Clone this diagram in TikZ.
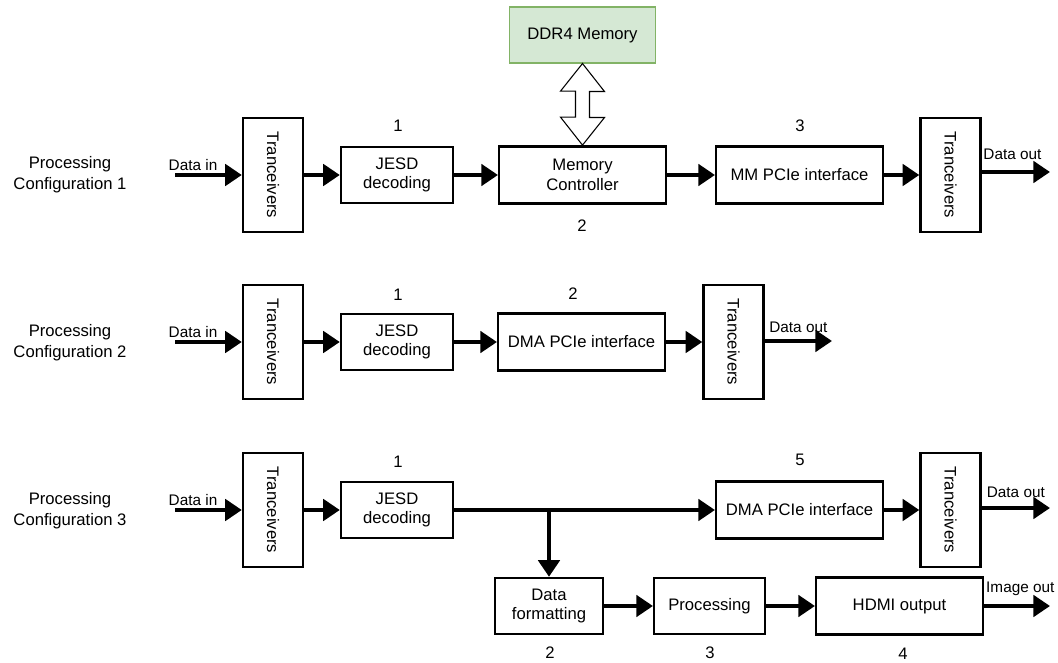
\documentclass[tikz,border=0pt]{standalone}
\usepackage{fontspec}
\setmainfont{Liberation Sans}
\usepackage{tikz}
\usetikzlibrary{arrows.meta}
\definecolor{ddrFill}{HTML}{D5E8D4}
\definecolor{ddrLine}{HTML}{82B366}
\tikzstyle{block} = [draw, rectangle, line width=1.8pt, align=center,
   font=\fontsize{12.5}{14.5}\selectfont, inner sep=0pt]
\tikzstyle{tranBox} = [block, minimum width=45pt, minimum height=85.5pt]
\tikzstyle{smallBox} = [block, minimum width=84pt, minimum height=42pt]
\tikzstyle{wideBox} = [block, minimum width=125pt, minimum height=43pt]
\tikzstyle{dataArrow} = [line width=3pt, -{Triangle[length=12.5pt, width=16pt]}]
\tikzstyle{ioLabel} = [font=\fontsize{11.5}{13}\selectfont, inner sep=1pt]
\tikzstyle{stepNum} = [font=\fontsize{12.5}{14.5}\selectfont]
\tikzstyle{cfgLabel} = [align=center, font=\fontsize{12.5}{15.5}\selectfont]
\newcommand{\tran}{\rotatebox{-90}{Tranceivers}}

\begin{document}
\begin{tikzpicture}[x=0.75pt, y=-0.75pt, thick]
  \useasboundingbox (0,0) rectangle (1058,663);

  % configuration 1
  \node[cfgLabel] (cfgA) at (70,175) {Processing\\Configuration 1};
  \coordinate (inA) at (175,175);
  \node[tranBox] (trA) at (273,175) {\tran};
  \node[smallBox] (jesdA) at (397,175) {JESD\\decoding};
  \node[wideBox] (mcA) at (582.5,175) {Memory\\Controller};
  \node[wideBox] (mmA) at (799.5,175) {MM PCIe interface};
  \node[tranBox] (trB) at (950.5,175) {\tran};
  \coordinate (outA) at (1050,172);
  \node[block, line width=0.8pt, draw=ddrLine, fill=ddrFill,
    minimum width=109pt, minimum height=42pt] (ddr) at (582.5,35) {DDR4 Memory};

  \node[stepNum] (nA1) at (398,126) {1};
  \node[stepNum] (nA2) at (582,226) {2};
  \node[stepNum] (nA3) at (800,126) {3};

  \draw[dataArrow] (inA) -- (trA.west) node[ioLabel, pos=0.27, above=1pt] {Data in};
  \draw[dataArrow] (trA) -- (jesdA);
  \draw[dataArrow] (jesdA) -- (mcA);
  \draw[dataArrow] (mcA) -- (mmA);
  \draw[dataArrow] (mmA) -- (trB);
  \draw[dataArrow] (trB.east |- outA) -- (outA) node[ioLabel, pos=0.45, above=7pt] {Data out};

  % memory bus (hollow double arrow)
  \draw[line width=0.8pt, fill=white] (ddr.south) -- ++(22,28) -- ++(-15,0) -- ++(0,26)
    -- ++(15,0) -- (mcA.north) -- ++(-22,-28) -- ++(15,0) -- ++(0,-26) -- ++(-15,0) -- cycle;

  % configuration 2
  \node[cfgLabel] (cfgB) at (70,343) {Processing\\Configuration 2};
  \coordinate (inB) at (175,342);
  \node[tranBox] (trC) at (273,342) {\tran};
  \node[smallBox] (jesdB) at (397,342) {JESD\\decoding};
  \node[wideBox] (dmaB) at (581.5,342) {DMA PCIe interface};
  \node[tranBox] (trD) at (733.5,342) {\tran};
  \coordinate (outB) at (832,341);

  \node[stepNum] (nB1) at (398,295) {1};
  \node[stepNum] (nB2) at (573,294) {2};

  \draw[dataArrow] (inB) -- (trC.west) node[ioLabel, pos=0.27, above=1pt] {Data in};
  \draw[dataArrow] (trC) -- (jesdB);
  \draw[dataArrow] (jesdB) -- (dmaB);
  \draw[dataArrow] (dmaB) -- (trD);
  \draw[dataArrow] (trD.east |- outB) -- (outB) node[ioLabel, pos=0.5, above=4pt] {Data out};

  % configuration 3
  \node[cfgLabel] (cfgC) at (70,511) {Processing\\Configuration 3};
  \coordinate (inC) at (175,510);
  \node[tranBox] (trE) at (273,510) {\tran};
  \node[smallBox] (jesdC) at (397,510) {JESD\\decoding};
  \node[wideBox] (dmaC) at (799.5,510) {DMA PCIe interface};
  \node[tranBox] (trF) at (950.5,510) {\tran};
  \coordinate (outC) at (1050,508);
  \coordinate (br) at (549,510);
  \node[block, minimum width=81pt, minimum height=42pt] (fmt) at (549,606) {Data\\formatting};
  \node[block, minimum width=83pt, minimum height=42pt] (proc) at (709.5,606) {Processing};
  \node[wideBox] (hdmi) at (899.5,606) {HDMI output};
  \coordinate (outD) at (1050,606);

  \node[stepNum] (nC1) at (398,462) {1};
  \node[stepNum] (nC5) at (800,460) {5};
  \node[stepNum] (nC2) at (550,653) {2};
  \node[stepNum] (nC3) at (710,653) {3};
  \node[stepNum] (nC4) at (903,654) {4};

  \draw[dataArrow] (inC) -- (trE.west) node[ioLabel, pos=0.27, above=1pt] {Data in};
  \draw[dataArrow] (trE) -- (jesdC);
  \draw[dataArrow] (jesdC) -- (dmaC);
  \draw[dataArrow] (dmaC) -- (trF);
  \draw[dataArrow] (trF.east |- outC) -- (outC) node[ioLabel, pos=0.5, above=5pt] {Data out};
  \draw[dataArrow] (br) -- (fmt.north);
  \draw[dataArrow] (fmt) -- (proc);
  \draw[dataArrow] (proc) -- (hdmi);
  \draw[dataArrow] (hdmi) -- (outD) node[ioLabel, pos=0.55, above=5pt] {Image out};
\end{tikzpicture}
\end{document}
